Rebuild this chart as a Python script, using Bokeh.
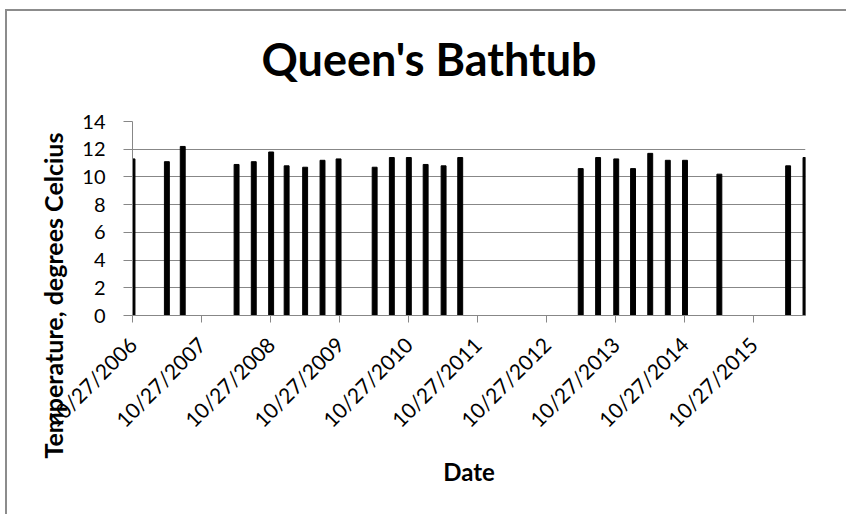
import pandas as pd
from math import pi
from bokeh.plotting import figure
from bokeh.layouts import column
from bokeh.models import Range1d, FixedTicker, DatetimeTickFormatter, Title, ColumnDataSource
from bokeh.embed import file_html
from bokeh.resources import INLINE

# ---- data ----
sample_dates = ["2006-10-27", "2007-04-27", "2007-07-20", "2008-04-30", "2008-07-30",
                "2008-10-30", "2009-01-20", "2009-04-28", "2009-07-29", "2009-10-22",
                "2010-05-01", "2010-07-31", "2010-10-29", "2011-01-26", "2011-05-01",
                "2011-07-28", "2013-04-26", "2013-07-27", "2013-10-31", "2014-01-28",
                "2014-04-29", "2014-07-31", "2014-10-30", "2015-04-30", "2016-04-28",
                "2016-07-29"]
temperatures = [11.3, 11.1, 12.2, 10.9, 11.1, 11.8, 10.8, 10.7, 11.2, 11.3,
                10.7, 11.4, 11.4, 10.9, 10.8, 11.4, 10.6, 11.4, 11.3, 10.6,
                11.7, 11.2, 11.2, 10.2, 10.8, 11.4]
tick_dates = ["2006-10-27", "2007-10-27", "2008-10-27", "2009-10-27", "2010-10-27",
              "2011-10-27", "2012-10-27", "2013-10-27", "2014-10-27", "2015-10-27"]
x_start, x_end = "2006-10-27", "2016-07-29"
y_ticks = [0, 2, 4, 6, 8, 10, 12, 14]
title_text = "Queen's Bathtub"
x_title = "Date"
y_title = "Temperature, degrees Celcius"


def ms(d):
    return pd.Timestamp(d).value // 10**6


DAY = 86400000
FONT = "Lato"
GRAY = "#878787"

# canvas origin on the page (wrapper margin + 2px figure margin)
OX, OY = 7, 11
W, H = 839, 503
f_left, f_right, f_top, f_bottom = 132 - OX, 805 - OX, 121 - OY, 315 - OY

src = ColumnDataSource(dict(x=[ms(d) for d in sample_dates], top=temperatures))

p = figure(width=W, height=H, x_axis_type="datetime", output_backend="svg",
           toolbar_location=None, title=None,
           x_range=Range1d(ms(x_start), ms(x_end)), y_range=Range1d(0, 14),
           min_border_left=f_left, min_border_right=W - f_right,
           min_border_top=f_top, min_border_bottom=H - f_bottom,
           margin=(2, 0, 0, 2))
p.outline_line_color = None
p.background_fill_color = "white"
p.border_fill_color = "white"

p.vbar(x="x", top="top", bottom=0, width=26 * DAY, source=src,
       fill_color="black", line_color="black")

# axes
p.xaxis.ticker = FixedTicker(ticks=[ms(d) for d in tick_dates])
fmt = "%m/%d/%Y"
p.xaxis.formatter = DatetimeTickFormatter(years=fmt, months=fmt, days=fmt, hours=fmt,
                                          hourmin=fmt, minutes=fmt, minsec=fmt,
                                          seconds=fmt, milliseconds=fmt, microseconds=fmt)
p.xaxis.major_label_orientation = pi / 4
p.yaxis.ticker = FixedTicker(ticks=y_ticks)

for ax in (p.xaxis[0], p.yaxis[0]):
    ax.axis_line_color = GRAY
    ax.major_tick_line_color = GRAY
    ax.minor_tick_line_color = None
    ax.major_tick_in = 0
    ax.major_label_text_font = FONT
    ax.major_label_text_color = "black"
p.yaxis.major_label_text_font_size = "20px"
p.xaxis.major_label_text_font_size = "21px"
p.yaxis.major_tick_out = 9
p.yaxis.major_label_standoff = 18
p.xaxis.major_tick_out = 7
p.xaxis.major_label_standoff = 18

p.xgrid.grid_line_color = None
p.ygrid.grid_line_color = GRAY
p.ygrid.ticker = FixedTicker(ticks=y_ticks)

# titles: a blank spacer next to the frame, then the chart title
p.add_layout(Title(text=" ", text_font_size="10px", standoff=23), "above")
p.add_layout(Title(text=title_text, text_font=FONT, text_font_style="bold",
                   text_font_size="45px", text_color="black", align="left",
                   offset=261 - 132, vertical_align="bottom", standoff=0), "above")

p.add_layout(Title(text=x_title, text_font=FONT, text_font_style="bold",
                   text_font_size="24px", text_color="black", align="center",
                   vertical_align="top", standoff=26), "below")
p.add_layout(Title(text=y_title, text_font=FONT, text_font_style="bold",
                   text_font_size="25px", text_color="black", align="left",
                   offset=315 - 458, vertical_align="bottom", standoff=24), "left")

# chart-area frame: gray strips on the left and top edges, painted behind the figure
line_bg = ("linear-gradient(#8c8c8c, #8c8c8c) 0 0 / 2px 100% no-repeat, "
           "linear-gradient(#8c8c8c, #8c8c8c) 0 0 / 100% 2px no-repeat")
layout = column(p, margin=(OY - 2, 0, 0, OX - 2), styles={"background": line_bg})

open("out.html", "w").write(file_html(layout, INLINE))
